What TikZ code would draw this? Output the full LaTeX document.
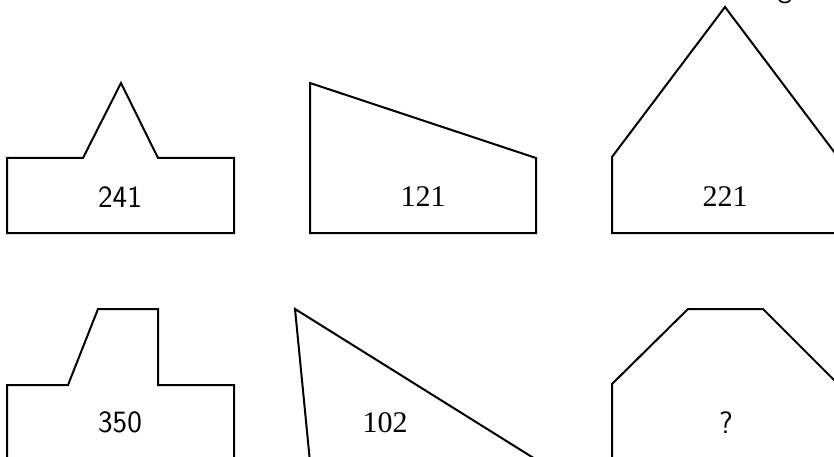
\documentclass[tikz,border=0pt]{standalone}
\usepackage{fontspec}
\newfontfamily\labelserif{Liberation Serif}
\begin{document}
\begin{tikzpicture}[x=1pt,y=-1pt,
  shapeline/.style={draw=black,line width=2pt,line join=miter},
  sflabel/.style={font=\sffamily\fontsize{31}{36}\selectfont,inner sep=0pt},
  rmlabel/.style={font=\labelserif\fontsize{30}{36}\selectfont,inner sep=0pt}]
\useasboundingbox (0,0) rectangle (834,457);
\begin{scope}
\clip (0,0) rectangle (834,457);
% shape 1
\draw[shapeline] (7,233) -- (7,158) -- (83,158) -- (121,83) -- (158,158) -- (234,158) -- (234,233) -- cycle;
% shape 2
\draw[shapeline] (310,233) -- (310,83) -- (536,158) -- (536,233) -- cycle;
% shape 3
\draw[shapeline] (612,233) -- (612,157) -- (725,7) -- (838,157) -- (838,233) -- cycle;
% shape 4
\draw[shapeline] (7,462) -- (7,385) -- (68,385) -- (98,309) -- (158,309) -- (158,385) -- (234,385) -- (234,462);
% shape 5
\draw[shapeline] (310,462) -- (295,309) -- (540,462);
% shape 6
\draw[shapeline] (612,462) -- (612,384) -- (688,309) -- (763,309) -- (840,386);
\node[sflabel,anchor=south] (title) at (785,4) {g};
\end{scope}
\node[sflabel] (l241) at (120,197) {241};
\node[rmlabel] (l121) at (423,197) {121};
\node[rmlabel] (l221) at (725,197) {221};
\node[sflabel] (l350) at (120,422) {350};
\node[rmlabel] (l102) at (385,423) {102};
\node[sflabel] (lq) at (726,423) {?};
\end{tikzpicture}
\end{document}
